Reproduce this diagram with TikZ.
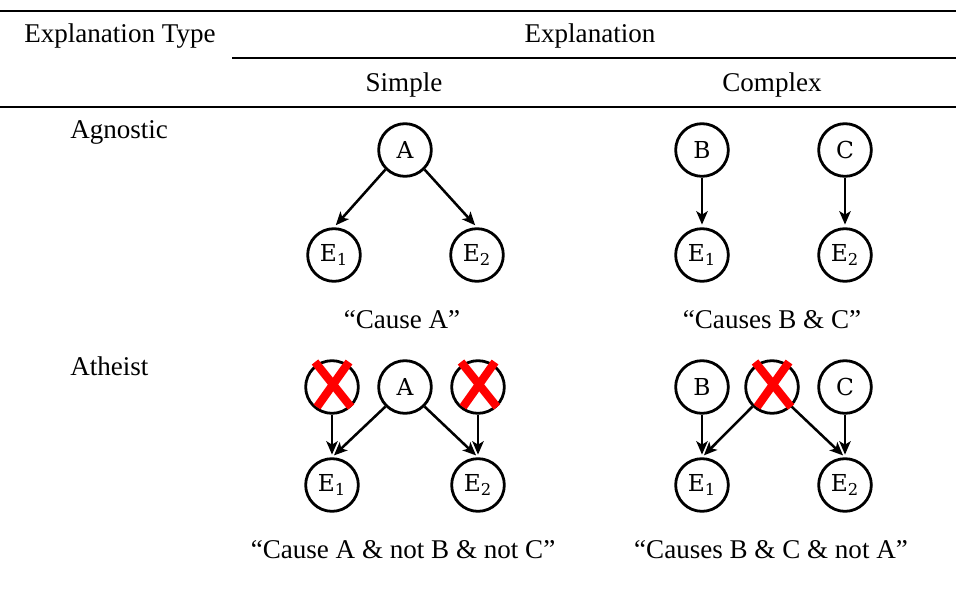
\documentclass[tikz,border=0pt]{standalone}
\usepackage{fontspec}
\setmainfont{Liberation Serif}
\newfontfamily\nodefont{DejaVu Serif}
\usetikzlibrary{arrows.meta}
\begin{document}
\begin{tikzpicture}[x=0.75pt,y=-0.75pt,
  lbl/.style={font=\fontsize{20.3}{24}\selectfont, anchor=base, inner sep=0pt},
  var/.style={circle, draw, line width=2.1pt, minimum size=39.5pt, inner sep=0pt,
    font=\nodefont\fontsize{17.5}{20}\selectfont},
  rulethick/.style={line width=2.2pt},
  rulethin/.style={line width=1.6pt},
  edge/.style={line width=1.9pt, -{Stealth[length=10pt,width=8.5pt,inset=2.5pt]}, shorten >=2pt},
  cross/.style={red, line width=6.2pt}
]
\useasboundingbox (0,0) rectangle (956,603);

% rules
\coordinate (r1a) at (0,11);   \coordinate (r1b) at (956,11);
\coordinate (r2a) at (232,58); \coordinate (r2b) at (956,58);
\coordinate (r3a) at (0,107);  \coordinate (r3b) at (956,107);
\draw[rulethick] (r1a) -- (r1b);
\draw[rulethin]  (r2a) -- (r2b);
\draw[rulethick] (r3a) -- (r3b);

% header
\node[lbl, anchor=base west] (ht) at (24,42) {Explanation Type};
\node[lbl] (he) at (590,42) {Explanation};
\node[lbl] (hs) at (404,91) {Simple};
\node[lbl] (hc) at (772,91) {Complex};

% row labels
\node[lbl, anchor=base west] (ag) at (70,138) {Agnostic};
\node[lbl, anchor=base west] (at) at (70,375) {Atheist};

% Agnostic simple
\node[var] (a1A)  at (405,150) {A};
\node[var] (a1E1) at (334,255) {E\textsubscript{1}};
\node[var] (a1E2) at (477,255) {E\textsubscript{2}};
\draw[edge] (a1A.-135) -- (a1E1.north);
\draw[edge] (a1A.-45) -- (a1E2.north);
\node[lbl] (cap1) at (402,328) {``Cause A''};

% Agnostic complex
\node[var] (a2B)  at (702,150) {B};
\node[var] (a2C)  at (845,150) {C};
\node[var] (a2E1) at (702,255) {E\textsubscript{1}};
\node[var] (a2E2) at (845,255) {E\textsubscript{2}};
\draw[edge] (a2B) -- (a2E1);
\draw[edge] (a2C) -- (a2E2);
\node[lbl] (cap2) at (772,328) {``Causes B \& C''};

% Atheist simple
\node[var] (t1B)  at (332,387) {};
\node[var] (t1A)  at (405,387) {A};
\node[var] (t1C)  at (478,387) {};
\node[var] (t1E1) at (332,485) {E\textsubscript{1}};
\node[var] (t1E2) at (478,485) {E\textsubscript{2}};
\draw[edge] (t1B) -- (t1E1);
\draw[edge] (t1C) -- (t1E2);
\draw[edge] (t1A.-135) -- (t1E1.north);
\draw[edge] (t1A.-45) -- (t1E2.north);
\draw[cross] ([shift={(-17,-25)}]t1B.center) -- ([shift={(19,20)}]t1B.center);
\draw[cross] ([shift={(17,-25)}]t1B.center) -- ([shift={(-15,20)}]t1B.center);
\draw[cross] ([shift={(-17,-25)}]t1C.center) -- ([shift={(19,20)}]t1C.center);
\draw[cross] ([shift={(17,-25)}]t1C.center) -- ([shift={(-15,20)}]t1C.center);
\node[lbl] (cap3) at (403,558) {``Cause A \& not B \& not C''};

% Atheist complex
\node[var] (t2B)  at (702,387) {B};
\node[var] (t2A)  at (772,387) {};
\node[var] (t2C)  at (845,387) {C};
\node[var] (t2E1) at (702,485) {E\textsubscript{1}};
\node[var] (t2E2) at (845,485) {E\textsubscript{2}};
\draw[edge] (t2B) -- (t2E1);
\draw[edge] (t2C) -- (t2E2);
\draw[edge] (t2A.-135) -- (t2E1.north);
\draw[edge] (t2A.-45) -- (t2E2.north);
\draw[cross] ([shift={(-17,-25)}]t2A.center) -- ([shift={(19,20)}]t2A.center);
\draw[cross] ([shift={(17,-25)}]t2A.center) -- ([shift={(-15,20)}]t2A.center);
\node[lbl] (cap4) at (771,558) {``Causes B \& C \& not A''};
\end{tikzpicture}
\end{document}
